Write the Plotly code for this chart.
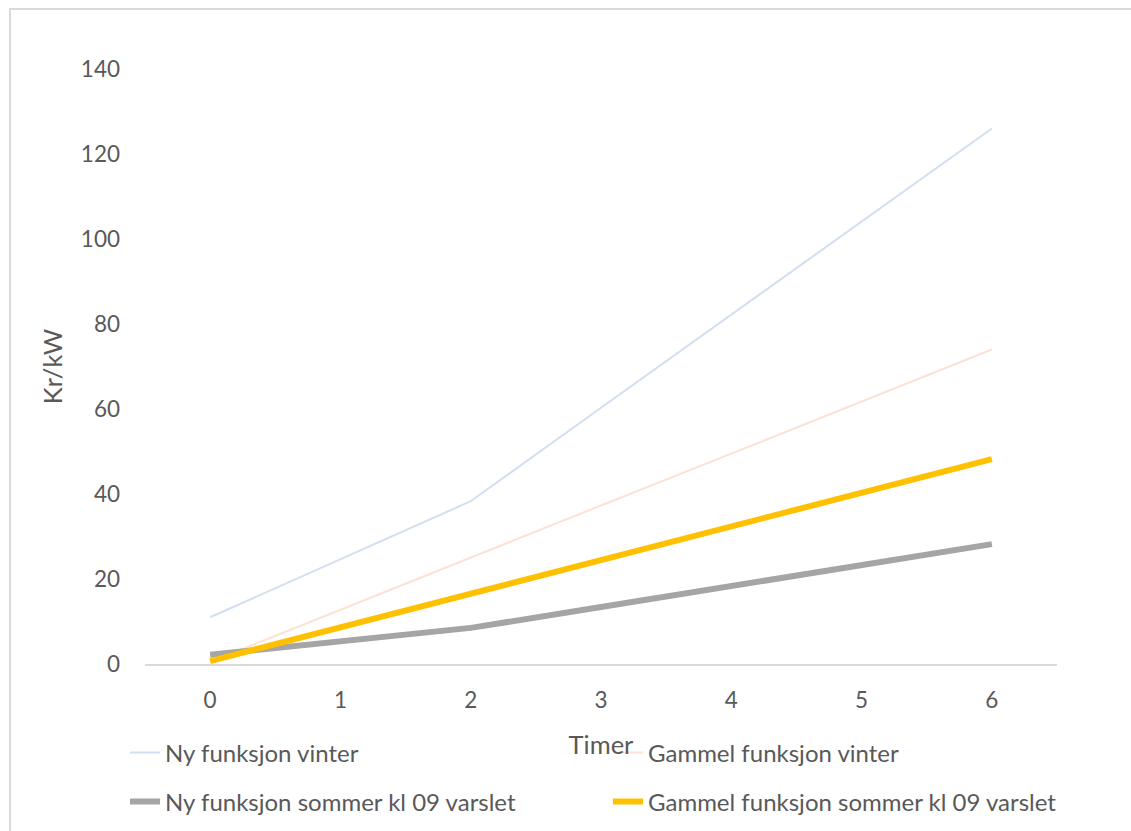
import plotly.graph_objects as go

# Hours (category axis 0..6)
timer = [0, 1, 2, 3, 4, 5, 6]
tick_labels = ["0", "1", "2", "3", "4", "5", "6"]

# Kr/kW per series
ny_vinter = [11.0, 24.6, 38.3, 60.3, 82.2, 104.1, 126.0]
gammel_vinter = [0.5, 12.8, 25.0, 37.3, 49.5, 61.8, 74.0]
ny_sommer = [2.2, 5.4, 8.5, 13.4, 18.4, 23.3, 28.2]
gammel_sommer = [0.7, 8.6, 16.5, 24.5, 32.4, 40.3, 48.2]

FONT = "Lato, Roboto, sans-serif"
TXT = "#595959"

# plot area in pixels: left 145, right 1057, top 69, bottom 664
L, R, T, B = 145, 1057, 69, 664
PW, PH = R - L, B - T


def px_x(px):
    return (px - L) / PW


def px_y(py):
    return (B - py) / PH


series = [
    ("Ny funksjon vinter", ny_vinter, "#d3def1", 2, "legend", 125, 753),
    ("Gammel funksjon vinter", gammel_vinter, "#fbe2d5", 2, "legend2", 608, 753),
    ("Ny funksjon sommer kl 09 varslet", ny_sommer, "#a5a5a5", 6, "legend3", 125, 802),
    ("Gammel funksjon sommer kl 09 varslet", gammel_sommer, "#ffc000", 6, "legend4", 608, 802),
]

fig = go.Figure()
legend_layouts = {}
for name, vals, color, width, leg, lx, ly in series:
    fig.add_trace(go.Scatter(
        x=timer, y=vals, name=name, mode="lines",
        line=dict(color=color, width=width), legend=leg,
    ))
    legend_layouts[leg] = dict(
        x=px_x(lx), y=px_y(ly), xanchor="left", yanchor="middle",
        orientation="v", bgcolor="rgba(0,0,0,0)", borderwidth=0,
        font=dict(size=24, color=TXT, family=FONT), itemwidth=30,
    )

fig.update_layout(
    width=1131, height=831,
    margin=dict(l=L, r=1131 - R, t=T, b=831 - B, autoexpand=False),
    paper_bgcolor="white", plot_bgcolor="white",
    font=dict(family=FONT, color=TXT, size=22),
    showlegend=True,
    xaxis=dict(
        range=[-0.5, 6.5], tickmode="array", tickvals=timer, ticktext=tick_labels,
        showgrid=False, zeroline=False, showline=True, linecolor="#d9d9d9", linewidth=1.5,
        ticks="", tickfont=dict(size=22.5, color=TXT, family=FONT),
        ticklabelstandoff=15, automargin=False,
        title=dict(text="Timer", font=dict(size=25.5, color=TXT, family=FONT), standoff=24),
    ),
    yaxis=dict(
        range=[0, 140], tickvals=[0, 20, 40, 60, 80, 100, 120, 140],
        showgrid=False, zeroline=False, showline=False, ticks="",
        tickfont=dict(size=22.5, color=TXT, family=FONT),
        ticklabelstandoff=24, automargin=False,
        title=dict(text="Kr/kW", font=dict(size=25.5, color=TXT, family=FONT), standoff=10),
    ),
    shapes=[
        dict(type="rect", xref="paper", yref="paper",
             x0=px_x(10), x1=px_x(1200), y0=px_y(900), y1=px_y(9),
             line=dict(color="#d9d9d9", width=2), fillcolor="rgba(0,0,0,0)",
             layer="below"),
    ],
    **legend_layouts,
)

fig.write_html("out.html")
